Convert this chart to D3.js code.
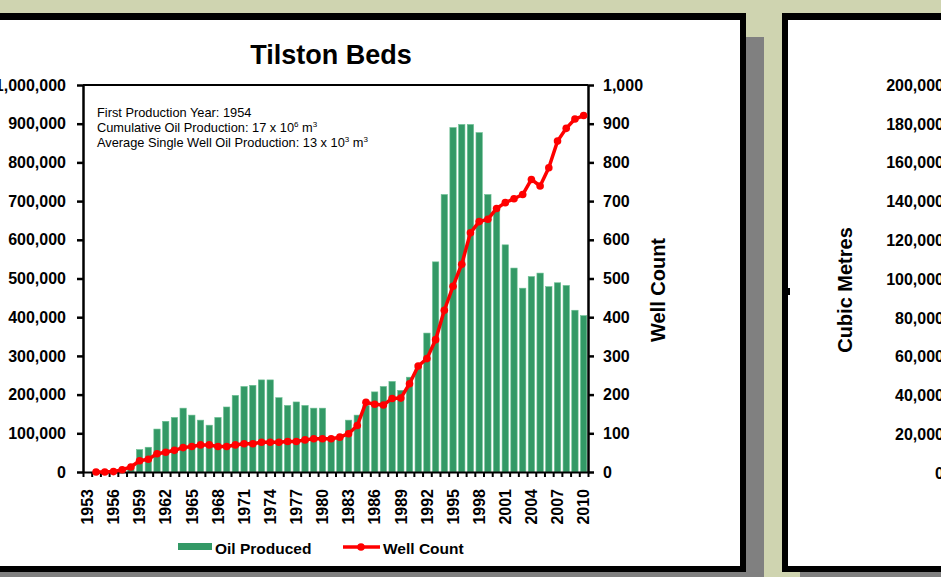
<!DOCTYPE html>
<html>
<head>
<meta charset="utf-8">
<script src="https://cdn.jsdelivr.net/npm/d3@7"></script>
<style>
  body { margin: 0; background: #cfd4b0; overflow: hidden; }
  svg { display: block; font-family: "Liberation Sans", Arial, sans-serif; }
  .axis path, .axis line { stroke: #000; }
  .axis text { font-weight: bold; font-size: 16px; fill: #000; }
</style>
</head>
<body>
<div id="chart"></div>
<script>
// data
const years = [1953, 1954, 1955, 1956, 1957, 1958, 1959, 1960, 1961, 1962,
  1963, 1964, 1965, 1966, 1967, 1968, 1969, 1970, 1971, 1972,
  1973, 1974, 1975, 1976, 1977, 1978, 1979, 1980, 1981, 1982,
  1983, 1984, 1985, 1986, 1987, 1988, 1989, 1990, 1991, 1992,
  1993, 1994, 1995, 1996, 1997, 1998, 1999, 2000, 2001, 2002,
  2003, 2004, 2005, 2006, 2007, 2008, 2009, 2010];

const oilProduced = [0, 0, 0, 0, 4000, 12000, 58000, 64000, 111000, 131000,
  141000, 165000, 147000, 134000, 121000, 141000, 168000, 198000, 221000, 224000,
  238000, 238000, 192000, 172000, 181000, 172000, 165000, 165000, 88000, 86000,
  134000, 147000, 172000, 207000, 221000, 234000, 211000, 245000, 278000, 359000,
  543000, 717000, 890000, 898000, 898000, 877000, 717000, 680000, 587000, 527000,
  475000, 505000, 514000, 479000, 489000, 482000, 418000, 404000];

const wellCount = [null, 0, 0, 1, 6, 13, 29, 33, 47, 51,
  56, 63, 66, 70, 70, 66, 66, 70, 73, 73,
  77, 77, 77, 79, 79, 83, 86, 86, 86, 90,
  99, 120, 180, 175, 173, 190, 191, 228, 274, 293,
  342, 418, 480, 537, 618, 647, 653, 681, 696, 706,
  717, 756, 739, 786, 855, 888, 912, 921];

const leftTicks = [0, 100000, 200000, 300000, 400000, 500000, 600000, 700000, 800000, 900000, 1000000];
const rightTicks = [0, 100, 200, 300, 400, 500, 600, 700, 800, 900, 1000];
const yearLabels = [1953, 1956, 1959, 1962, 1965, 1968, 1971, 1974, 1977, 1980,
  1983, 1986, 1989, 1992, 1995, 1998, 2001, 2004, 2007, 2010];
const secondTicks = [0, 20000, 40000, 60000, 80000, 100000, 120000, 140000, 160000, 180000, 200000];

const width = 941;
const height = 577;

const svg = d3.select("#chart")
    .append("svg")
    .attr("width", width)
    .attr("height", height)

// panels: shadow, black frame, white inside
function panel(x0, y0, x1, y1) {
    svg.append("rect")
        .attr("x", x0 + 18).attr("y", y0 + 24)
        .attr("width", x1 - x0).attr("height", y1 - y0)
        .attr("fill", "#808080")
    svg.append("rect")
        .attr("x", x0).attr("y", y0)
        .attr("width", x1 - x0).attr("height", y1 - y0)
        .attr("fill", "#000")
    svg.append("rect")
        .attr("x", x0 + 6).attr("y", y0 + 7)
        .attr("width", x1 - x0 - 12).attr("height", y1 - y0 - 13)
        .attr("fill", "#fff")
}
panel(-20, 13, 746, 572);
panel(782, 13, 1000, 572);

// little mark on the second panel's border
svg.append("rect").attr("x", 786).attr("y", 288).attr("width", 4).attr("height", 7).attr("fill", "#000");

const plotLeft = 83, plotRight = 588, plotTop = 85, plotBottom = 472;

const x = d3.scaleBand()
    .domain(years)
    .range([plotLeft, plotRight])
    .paddingInner(0.27)
    .paddingOuter(0.135);

const xEdge = d3.scaleLinear()
    .domain([0, years.length])
    .range([plotLeft, plotRight]);

const yLeft = d3.scaleLinear().domain([0, 1000000]).range([plotBottom, plotTop]);
const yRight = d3.scaleLinear().domain([0, 1000]).range([plotBottom, plotTop]);

// title
svg.append("text")
    .attr("x", 331).attr("y", 64)
    .attr("text-anchor", "middle")
    .style("font-size", "27px").style("font-weight", "bold")
    .text("Tilston Beds");

// bars
svg.append("g")
    .selectAll("rect")
    .data(years)
    .enter()
    .append("rect")
    .attr("x", d => x(d))
    .attr("width", x.bandwidth())
    .attr("y", (d, i) => yLeft(oilProduced[i]))
    .attr("height", (d, i) => plotBottom - yLeft(oilProduced[i]))
    .attr("fill", "#339966")
    .attr("stroke", "#6cc093")
    .attr("stroke-width", 0.6);

// plot top border
svg.append("line")
    .attr("x1", plotLeft).attr("x2", plotRight)
    .attr("y1", plotTop).attr("y2", plotTop)
    .attr("stroke", "#000").attr("stroke-width", 2);

// axes
const leftAxis = svg.append("g")
    .attr("class", "axis")
    .attr("transform", "translate(" + plotLeft + ",0)")
    .call(d3.axisLeft(yLeft).tickValues(leftTicks).tickFormat(d3.format(",")).tickSize(6).tickSizeOuter(0).tickPadding(11));
leftAxis.selectAll("path, line").attr("stroke-width", 2.5);

const rightAxis = svg.append("g")
    .attr("class", "axis")
    .attr("transform", "translate(" + plotRight + ",0)")
    .call(d3.axisRight(yRight).tickValues(rightTicks).tickFormat(d3.format(",")).tickSize(6).tickSizeOuter(0).tickPadding(9));
rightAxis.selectAll("path, line").attr("stroke-width", 2.5);

const xTicks = svg.append("g")
    .attr("class", "axis")
    .attr("transform", "translate(0," + plotBottom + ")")
    .call(d3.axisBottom(xEdge).tickValues(d3.range(years.length + 1)).tickFormat("").tickSize(5).tickSizeOuter(0));
xTicks.selectAll("path, line").attr("stroke-width", 2);

const xLabels = svg.append("g")
    .attr("class", "axis")
    .attr("transform", "translate(0," + plotBottom + ")")
    .call(d3.axisBottom(x).tickValues(yearLabels).tickSize(0));
xLabels.select("path").remove();
xLabels.selectAll("text")
    .attr("transform", "rotate(-90)")
    .attr("text-anchor", "end")
    .attr("x", -17)
    .attr("y", 0)
    .attr("dy", "0.36em");

// axis title on the right
svg.append("text")
    .attr("transform", "translate(665,290) rotate(-90)")
    .attr("text-anchor", "middle")
    .style("font-size", "20px").style("font-weight", "bold")
    .text("Well Count");

// well count line
const line = d3.line()
    .defined(d => d !== null)
    .x((d, i) => x(years[i]) + x.bandwidth() / 2)
    .y(d => yRight(d));

svg.append("path")
    .attr("d", line(wellCount))
    .attr("fill", "none")
    .attr("stroke", "#ff0000")
    .attr("stroke-width", 3.5)
    .attr("stroke-linejoin", "round");

svg.append("g")
    .selectAll("circle")
    .data(years.filter((d, i) => wellCount[i] !== null))
    .enter()
    .append("circle")
    .attr("cx", d => x(d) + x.bandwidth() / 2)
    .attr("cy", d => yRight(wellCount[years.indexOf(d)]))
    .attr("r", 3.8)
    .attr("fill", "#ff0000");

// notes in the corner
const note = svg.append("text")
    .attr("x", 97).attr("y", 117)
    .style("font-size", "12.8px");
note.append("tspan").attr("x", 97).text("First Production Year: 1954");
const l2 = note.append("tspan").attr("x", 97).attr("dy", 15).text("Cumulative Oil Production: 17 x 10");
l2.append("tspan").attr("dy", -5).style("font-size", "8px").text("6");
l2.append("tspan").attr("dy", 5).text(" m");
l2.append("tspan").attr("dy", -5).style("font-size", "8px").text("3");
const l3 = note.append("tspan").attr("x", 97).attr("dy", 20).text("Average Single Well Oil Production: 13 x 10");
l3.append("tspan").attr("dy", -5).style("font-size", "8px").text("3");
l3.append("tspan").attr("dy", 5).text(" m");
l3.append("tspan").attr("dy", -5).style("font-size", "8px").text("3");

// legend
const legend = svg.append("g");
legend.append("rect")
    .attr("x", 178).attr("y", 543).attr("width", 34).attr("height", 7)
    .attr("fill", "#339966");
legend.append("text")
    .attr("x", 215).attr("y", 554)
    .style("font-size", "15.5px").style("font-weight", "bold")
    .text("Oil Produced");
legend.append("line")
    .attr("x1", 343).attr("x2", 380).attr("y1", 547).attr("y2", 547)
    .attr("stroke", "#ff0000").attr("stroke-width", 3.5);
legend.append("circle")
    .attr("cx", 361).attr("cy", 547).attr("r", 3.8).attr("fill", "#ff0000");
legend.append("text")
    .attr("x", 383).attr("y", 554)
    .style("font-size", "15.5px").style("font-weight", "bold")
    .text("Well Count");

// second chart, cut off at the window edge
const y2 = d3.scaleLinear().domain([0, 200000]).range([plotBottom + 1, plotTop]);
svg.append("g")
    .selectAll("text")
    .data(secondTicks)
    .enter()
    .append("text")
    .attr("x", 944)
    .attr("y", d => y2(d))
    .attr("dy", "0.36em")
    .attr("text-anchor", "end")
    .style("font-size", "16px").style("font-weight", "bold")
    .text(d => d3.format(",")(d));

svg.append("text")
    .attr("transform", "translate(852,290) rotate(-90)")
    .attr("text-anchor", "middle")
    .style("font-size", "20px").style("font-weight", "bold")
    .text("Cubic Metres");
</script>
</body>
</html>
